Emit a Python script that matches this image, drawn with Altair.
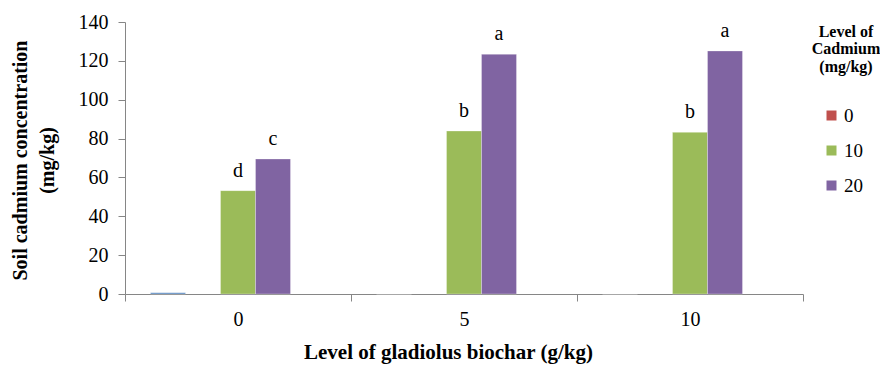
import altair as alt
import pandas as pd

biochar = ["0", "5", "10"]
levels = ["0", "10", "20"]
values = {
    "0": [0.6, 0.0, 0.0],
    "10": [53.2, 83.9, 83.2],
    "20": [69.5, 123.4, 125.1],
}
letters = {
    "0": ["", "", ""],
    "10": ["d", "b", "b"],
    "20": ["c", "a", "a"],
}
legend_title_lines = ["Level of", "Cadmium", "(mg/kg)"]
colors = ["#C0504D", "#9BBB59", "#8064A2"]

rows = []
for lv in levels:
    for i, b in enumerate(biochar):
        rows.append({"biochar": b, "level": lv, "value": values[lv][i], "letter": letters[lv][i]})
df = pd.DataFrame(rows)

FONT = "Liberation Serif"
W, H = 678, 272

x = alt.X(
    "biochar:N",
    sort=biochar,
    scale=alt.Scale(paddingInner=0, paddingOuter=0),
    axis=alt.Axis(
        title="Level of gladiolus biochar (g/kg)",
        titleFont=FONT, titleFontSize=21, titleFontWeight="bold", titleColor="black",
        titleX=323, titleY=64, titleBaseline="alphabetic", titleAnchor="start", titleAlign="center",
        labelFont=FONT, labelFontSize=20, labelColor="black", labelAngle=0, labelPadding=8,
        tickBand="extent", tickSize=7, tickColor="#868686", domainColor="#868686",
        grid=False,
    ),
)
xoff = alt.XOffset(
    "level:N",
    scale=alt.Scale(domain=["0", "gap1", "10", "20", "gap2"], paddingInner=0, paddingOuter=0.7286),
)
y = alt.Y(
    "value:Q",
    scale=alt.Scale(domain=[0, 140], nice=False),
    axis=alt.Axis(
        values=[0, 20, 40, 60, 80, 100, 120, 140],
        title=["Soil cadmium concentration", "(mg/kg)"],
        titleFont=FONT, titleFontSize=20, titleFontWeight="bold", titleColor="black",
        titleX=-99, titleY=138, titleAngle=270, titleBaseline="alphabetic", titleAlign="center",
        titleLineHeight=27, titleAnchor="start",
        labelFont=FONT, labelFontSize=20, labelColor="black", labelPadding=10,
        tickSize=7, tickColor="#868686", domainColor="#868686", grid=False,
    ),
)

bars = alt.Chart(df).mark_bar(stroke="white", strokeWidth=0.5, strokeOpacity=0.6).encode(
    x=x,
    xOffset=xoff,
    y=y,
    color=alt.condition(
        "datum.biochar == '0' && datum.level == '0'",
        alt.value("#4F81BD"),
        alt.Color(
            "level:N",
            scale=alt.Scale(domain=levels, range=colors),
            legend=alt.Legend(
                title=None, orient="none", legendX=697, legendY=84,
                symbolType="square", symbolSize=100, symbolStrokeWidth=0,
                labelFont=FONT, labelFontSize=19, labelColor="black", labelOffset=3,
                rowPadding=15, padding=0,
            ),
        ),
    ),
)

text = alt.Chart(df).transform_filter("datum.letter != ''").mark_text(
    font=FONT, fontSize=20, baseline="alphabetic", dy=-14, color="black"
).encode(x=x, xOffset=xoff, y=y, text="letter:N")

lt = pd.DataFrame({"line": legend_title_lines, "ypos": [15, 32, 50]})
legend_title = alt.Chart(lt).mark_text(
    font=FONT, fontSize=16, fontWeight="bold", color="black", align="center", baseline="alphabetic"
).encode(x=alt.value(721), y=alt.Y("ypos:Q", scale=None), text="line:N")

chart = alt.layer(bars, text, legend_title).properties(
    width=W, height=H,
    autosize=alt.AutoSizeParams(type="none"),
    padding={"left": 125, "top": 22, "right": 77, "bottom": 71},
    background="white",
).configure_view(stroke=None)

chart.save("out.html", embed_options={"renderer": "svg", "actions": False})
